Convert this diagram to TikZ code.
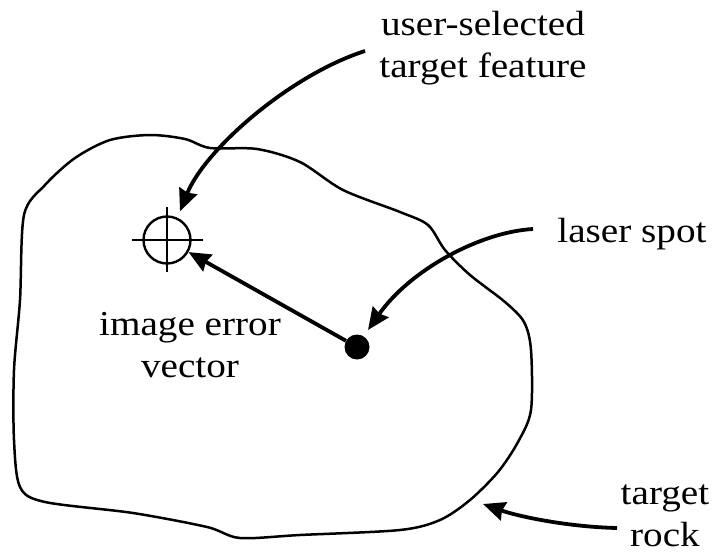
\documentclass[tikz,border=0pt]{standalone}
\usepackage{fontspec}
\setmainfont{Liberation Serif}[FakeStretch=1.12]
\usetikzlibrary{arrows.meta}

\tikzset{
	outline/.style={line width=2.5pt, line join=round},
	pointer/.style={line width=3.8pt, -{Stealth[length=22pt, width=19pt, inset=2pt]}},
	lbl/.style={inner sep=0pt, align=center, font=\fontsize{35}{42}\selectfont},
}

\begin{document}
\begin{tikzpicture}[x=1pt, y=-1pt]
	\useasboundingbox (0,0) rectangle (715,554);
	\draw[outline] plot[smooth cycle, tension=0.5] coordinates {
		(20,300) (24,215) (45,185) (75,158) (110,140) (150,135) (185,139) (210,148)
		(257,149) (300,162) (343,190) (400,212) (428,225) (445,250) (470,275) (505,302)
		(524,322) (531,350) (531,410) (518,442) (498,472) (470,500) (440,520) (400,530)
		(300,535) (240,538) (207,527) (133,513) (45,502) (20,487) (14,440) (14,370)};
	\node[draw, circle, line width=2.4pt, minimum size=47pt, inner sep=0pt] (target) at (167,240) {};
	\draw[line width=2.4pt] (132,240) -- (203,240) (167,207) -- (167,272);
	\fill (357,347) circle(12.5pt);
	\node[circle, minimum size=25pt, inner sep=0pt] (laser) at (357,347) {};
	\node[lbl, anchor=base] (feature) at (483,77) {user-selected\\target feature};
	\node[lbl, anchor=base] (spot) at (632,242) {laser spot};
	\node[lbl, anchor=base] (vec) at (190,377) {image error\\vector};
	\node[lbl, anchor=base] (rock) at (665,546) {target\\rock};
	\coordinate (featuretail) at (365,51);
	\coordinate (spottail) at (533,229);
	\coordinate (rocktail) at (617,528);
	\coordinate (rocktip) at (483,504);
	\draw[pointer] (laser) -- (target);
	\draw[pointer] (featuretail) .. controls +(-75,24) and +(25,-62) .. ([xshift=13pt,yshift=4pt]target.north);
	\draw[pointer] (spottail) .. controls +(-53,3) and +(42,-60) .. ([xshift=11pt,yshift=17pt]laser.center);
	\draw[pointer] (rocktail) .. controls +(-47,-1) and +(37,13) .. (rocktip);
\end{tikzpicture}
\end{document}
